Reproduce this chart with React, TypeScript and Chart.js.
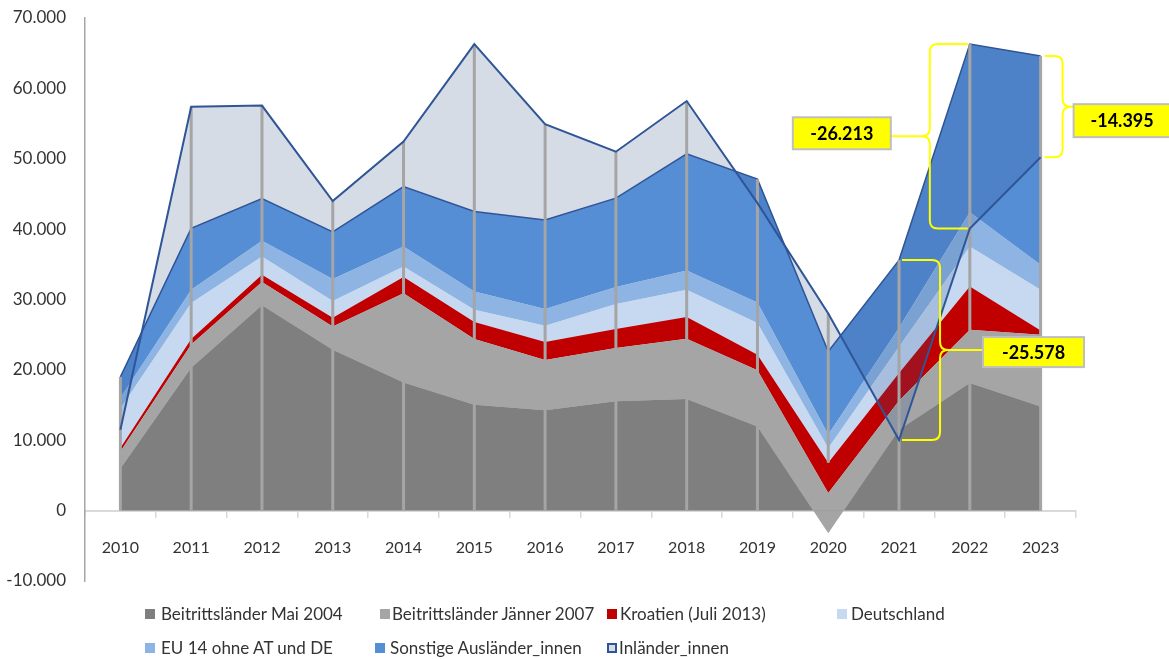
import React, { useEffect, useRef } from 'react';
import { Chart, registerables } from 'chart.js';

Chart.register(...registerables);

// ---------- data ----------
const years = ['2010', '2011', '2012', '2013', '2014', '2015', '2016', '2017', '2018', '2019', '2020', '2021', '2022', '2023'];
const mai2004 = [6000, 20300, 29200, 22850, 18200, 15050, 14250, 15530, 15860, 11970, -3200, 11500, 18130, 14810];
const jaenner2007 = [2400, 3300, 3300, 3300, 12700, 9350, 7150, 7570, 8560, 7960, 5700, 4130, 7570, 10190];
const kroatien = [500, 800, 1000, 1250, 2280, 2400, 2560, 2700, 3080, 2220, 4300, 3920, 6150, 600];
const deutschland = [5600, 5100, 2600, 2400, 1520, 1740, 2310, 3550, 3880, 4500, 2100, 3750, 5680, 5780];
const eu14 = [1500, 1900, 2250, 3100, 2830, 2610, 2370, 2420, 2750, 2930, 1900, 2700, 4870, 3550];
const sonstige = [3000, 8700, 6000, 6700, 8520, 11350, 12660, 12630, 16570, 17520, 11800, 9600, 23900, 29670];
const inlaender = [11500, 57400, 57550, 44000, 52450, 66300, 54900, 51000, 58200, 43700, 28000, 10022, 40087, 50205];

const seriesNames = [
  'Beitrittsländer Mai 2004',
  'Beitrittsländer Jänner 2007',
  'Kroatien (Juli 2013)',
  'Deutschland',
  'EU 14 ohne AT und DE',
  'Sonstige Ausländer_innen',
  'Inländer_innen',
];

const yMin = -10000;
const yMax = 70000;
const yStep = 10000;

const braceYears = ['2022', '2023', '2021'];
const braceLabels = ['-26.213', '-14.395', '-25.578'];

// ---------- styles ----------
const COLORS = ['#7F7F7F', '#A5A5A5', '#C00000', '#C6D9F1', '#8DB4E2', '#558ED5'];
const INL_FILL = '#D6DCE5';
const INL_LINE = '#2F5597';
const FONT = 'Lato, "Noto Sans", sans-serif';
const TEXT = '#333333';

const braceStyle = [
  { brace: -40, tail: -2, side: 'left', gap: 39, w: 98, h: 32, dy: -3 },
  { brace: 22, tail: 4, side: 'right', gap: 11, w: 97, h: 33, dy: 14 },
  { brace: 41, tail: 3, side: 'right', gap: 43, w: 101, h: 30, dy: 2 },
];

const legendPos = [
  { box: 145, text: 161, row: 614 },
  { box: 380, text: 392, row: 614 },
  { box: 607, text: 620, row: 614 },
  { box: 837, text: 851, row: 614 },
  { box: 145, text: 161, row: 648 },
  { box: 375, text: 390, row: 648 },
  { box: 607, text: 619, row: 648 },
];

export default function App() {
  const ref = useRef<HTMLCanvasElement>(null);

  useEffect(() => {
    const stack = [mai2004, jaenner2007, kroatien, deutschland, eu14, sonstige];
    const totals = years.map((_, i) => stack.reduce((s, a) => s + a[i], 0));

    const stackSets = stack.map((data, k) => ({
      label: seriesNames[k],
      data,
      stack: 'main',
      backgroundColor: COLORS[k],
      borderColor: k === 5 ? INL_LINE : 'rgba(0,0,0,0)',
      borderWidth: k === 5 ? 1.5 : 0,
      fill: k === 0 ? { target: 'origin', above: COLORS[0], below: 'rgba(0,0,0,0)' } : '-1',
      pointRadius: 0,
      tension: 0,
      order: 4 + k,
    }));

    const dropLines = {
      id: 'dropLines',
      beforeDatasetDraw(chart: any, args: any) {
        if (args.index !== 6) return;
        const { ctx, scales } = chart;
        const xs = scales.x;
        const ys = scales.y;
        ctx.save();
        ctx.strokeStyle = '#A5A5A5';
        ctx.lineWidth = 3;
        years.forEach((_, i) => {
          const top = Math.max(totals[i], inlaender[i]);
          const base = mai2004[i] < 0 ? mai2004[i] + jaenner2007[i] + kroatien[i] : 0;
          const x = xs.getPixelForValue(i);
          ctx.beginPath();
          ctx.moveTo(x, ys.getPixelForValue(base));
          ctx.lineTo(x, ys.getPixelForValue(top));
          ctx.stroke();
        });
        ctx.restore();
      },
    };

    const braces = {
      id: 'braces',
      afterDatasetsDraw(chart: any) {
        const { ctx, scales } = chart;
        const xs = scales.x;
        const ys = scales.y;
        braceYears.forEach((yr, k) => {
          const st = braceStyle[k];
          const i = years.indexOf(yr);
          const xc = xs.getPixelForValue(i);
          const ya = ys.getPixelForValue(totals[i]);
          const yb = ys.getPixelForValue(inlaender[i]);
          const yTop = Math.min(ya, yb);
          const yBot = Math.max(ya, yb);
          const yMid = (yTop + yBot) / 2;
          const xb = xc + st.brace;
          const xTail = xc + st.tail;
          const t = xTail > xb ? 1 : -1;
          const r = 8;
          const xTip = st.side === 'left' ? xb - st.gap : xb + st.gap;
          ctx.save();
          ctx.strokeStyle = '#FFFF00';
          ctx.lineWidth = 2;
          ctx.beginPath();
          ctx.moveTo(xTail, yTop);
          ctx.lineTo(xb + t * r, yTop);
          ctx.quadraticCurveTo(xb, yTop, xb, yTop + r);
          ctx.lineTo(xb, yMid - r);
          ctx.quadraticCurveTo(xb, yMid, xb - t * r, yMid);
          ctx.lineTo(xTip, yMid);
          ctx.moveTo(xb - t * r, yMid);
          ctx.quadraticCurveTo(xb, yMid, xb, yMid + r);
          ctx.lineTo(xb, yBot - r);
          ctx.quadraticCurveTo(xb, yBot, xb + t * r, yBot);
          ctx.lineTo(xTail, yBot);
          ctx.stroke();
          // label box
          const bx = st.side === 'left' ? xTip - st.w : xTip;
          const by = yMid + st.dy - st.h / 2;
          ctx.fillStyle = '#FFFF00';
          ctx.fillRect(bx, by, st.w, st.h);
          ctx.strokeStyle = '#BFBFBF';
          ctx.lineWidth = 2;
          ctx.strokeRect(bx, by, st.w, st.h);
          ctx.fillStyle = '#000000';
          ctx.font = `bold 18px ${FONT}`;
          ctx.textAlign = 'center';
          ctx.textBaseline = 'middle';
          ctx.fillText(braceLabels[k], bx + st.w / 2, by + st.h / 2 + 1);
          ctx.restore();
        });
      },
    };

    const chart = new Chart(ref.current!, {
      type: 'line',
      data: {
        labels: years,
        datasets: [
          ...stackSets,
          {
            label: seriesNames[6],
            data: inlaender,
            stack: 'inlLine',
            borderColor: INL_LINE,
            borderWidth: 2,
            backgroundColor: INL_FILL,
            fill: false,
            pointRadius: 0,
            tension: 0,
            order: 2,
          },
          {
            label: 'inlFill',
            data: inlaender,
            stack: 'inlFill',
            borderColor: 'rgba(0,0,0,0)',
            borderWidth: 0,
            backgroundColor: INL_FILL,
            fill: 'origin',
            pointRadius: 0,
            tension: 0,
            order: 20,
          },
          {
            label: 'overlay',
            data: totals,
            stack: 'overlay',
            borderColor: 'rgba(0,0,0,0)',
            borderWidth: 0,
            backgroundColor: 'rgba(0,0,0,0)',
            fill: { target: 6, above: 'rgba(47,85,151,0.2)', below: 'rgba(0,0,0,0)' },
            pointRadius: 0,
            tension: 0,
            order: 3,
          },
        ] as any,
      },
      options: {
        animation: false,
        responsive: true,
        maintainAspectRatio: false,
        events: [],
        layout: { padding: { left: 0, right: 93, top: 18, bottom: 78 } },
        plugins: {
          legend: { display: false },
          tooltip: { enabled: false },
        },
        scales: {
          x: {
            type: 'category',
            offset: true,
            position: { y: 0 } as any,
            grid: {
              display: true,
              drawOnChartArea: false,
              drawTicks: true,
              tickLength: 6,
              color: '#D9D9D9',
              lineWidth: 1.5,
              offset: true,
            },
            border: { display: true, color: '#D9D9D9', width: 2 },
            ticks: {
              color: TEXT,
              font: { family: FONT, size: 16 },
              padding: 22,
              autoSkip: false,
              maxRotation: 0,
            },
          },
          y: {
            stacked: 'single' as any,
            min: yMin,
            max: yMax,
            afterFit: (s: any) => {
              s.width = 85;
            },
            grid: {
              display: true,
              drawOnChartArea: false,
              drawTicks: true,
              tickLength: 19,
              tickColor: 'rgba(0,0,0,0)',
            },
            border: { display: true, color: '#A6A6A6', width: 1.5 },
            ticks: {
              stepSize: yStep,
              padding: 0,
              color: TEXT,
              font: { family: FONT, size: 17 },
              callback: (v: any) => Number(v).toLocaleString('de-DE'),
            },
          },
        },
      },
      plugins: [dropLines, braces],
    });
    return () => chart.destroy();
  }, []);

  const legendFill = [...COLORS, INL_FILL];

  return (
    <div style={{ position: 'fixed', left: 0, top: 0, width: 1169, height: 659, background: '#fff' }}>
      <canvas ref={ref} />
      {seriesNames.map((name, k) => {
        const p = legendPos[k];
        const isInl = k === 6;
        return (
          <React.Fragment key={name}>
            <div
              style={{
                position: 'absolute',
                left: p.box,
                top: p.row - 5,
                width: 10,
                height: 10,
                boxSizing: 'border-box',
                background: legendFill[k],
                border: isInl ? `2px solid ${INL_LINE}` : 'none',
              }}
            />
            <div
              style={{
                position: 'absolute',
                left: p.text,
                top: p.row,
                transform: 'translateY(-50%)',
                fontFamily: FONT,
                fontSize: 17,
                lineHeight: '20px',
                color: TEXT,
                whiteSpace: 'nowrap',
              }}
            >
              {name}
            </div>
          </React.Fragment>
        );
      })}
    </div>
  );
}
